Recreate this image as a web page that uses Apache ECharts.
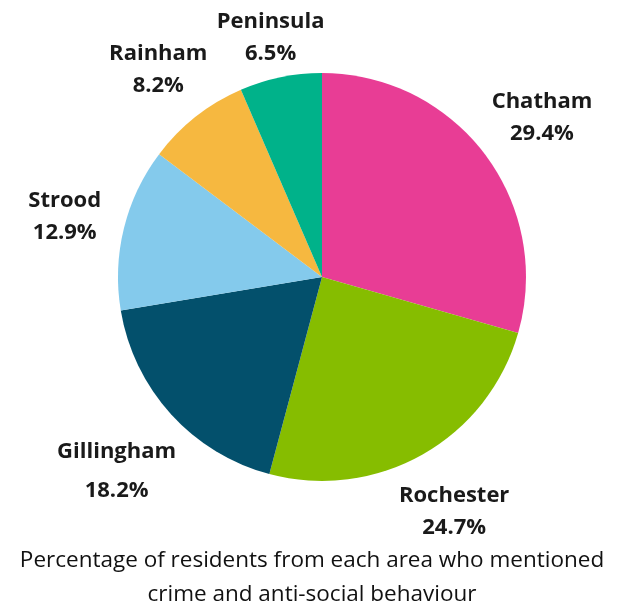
<!DOCTYPE html>
<html>
<head>
<meta charset="utf-8">
<script src="https://cdn.jsdelivr.net/npm/echarts@6/dist/echarts.min.js"></script>
<style>
  html, body { margin: 0; padding: 0; background: #ffffff; }
  #chart { width: 624px; height: 604px; }
</style>
</head>
<body>
<div id="chart"></div>
<script>
// Areas and the share of residents mentioning crime / anti-social behaviour (%)
const areas = ['Chatham', 'Rochester', 'Gillingham', 'Strood', 'Rainham', 'Peninsula'];
const shares = [29.4, 24.7, 18.2, 12.9, 8.2, 6.5];
const areaColors = ['#E83D95', '#86BD00', '#03506C', '#84CAEC', '#F6B840', '#00B28A'];
const captionLines = [
  'Percentage of residents from each area who mentioned',
  'crime and anti-social behaviour'
];

// small nudges so the two-line labels sit clear of the rim
const labelNudge = {
  Chatham: [6, 2],
  Rochester: [0, 2],
  Gillingham: [-7, 14],
  Strood: [3, 4],
  Rainham: [2, 3],
  Peninsula: [3, 23]
};
const labelLineGap = { Gillingham: 39 };

const pieCenter = [322, 277];

const sliceData = areas.map((name, i) => ({
  name,
  value: shares[i],
  itemStyle: { color: areaColors[i] }
}));

// Transparent ring used only to place centred labels around the pie
const labelRing = areas.map((name, i) => ({
  name,
  value: shares[i],
  label: {
    offset: labelNudge[name] || [0, 0],
    lineHeight: labelLineGap[name] || 32
  }
}));

const chart = echarts.init(document.getElementById('chart'), null, { renderer: 'canvas' });

chart.setOption({
  backgroundColor: '#ffffff',
  animation: false,
  title: {
    text: captionLines.join('\n'),
    left: 'center',
    top: 539,
    textStyle: {
      fontFamily: 'Open Sans',
      fontWeight: 'normal',
      fontSize: 22.5,
      lineHeight: 34,
      color: '#111111'
    }
  },
  series: [
    {
      type: 'pie',
      center: pieCenter,
      radius: 204,
      startAngle: 90,
      clockwise: true,
      silent: true,
      label: { show: false },
      labelLine: { show: false },
      data: sliceData
    },
    {
      type: 'pie',
      center: pieCenter,
      radius: [250, 280],
      startAngle: 90,
      clockwise: true,
      silent: true,
      itemStyle: { color: 'rgba(0,0,0,0)' },
      labelLine: { show: false },
      label: {
        show: true,
        position: 'inside',
        rotate: 0,
        formatter: p => p.name + '\n' + p.value.toFixed(1) + '%',
        fontFamily: 'Open Sans',
        fontWeight: 'bold',
        fontSize: 22,
        lineHeight: 32,
        color: '#1a1a1a',
        align: 'center'
      },
      data: labelRing
    }
  ]
});
</script>
</body>
</html>
